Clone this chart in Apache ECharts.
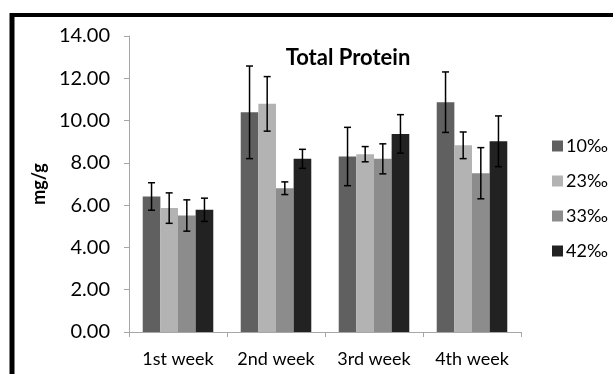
<!DOCTYPE html>
<html>
<head>
<meta charset="utf-8">
<script src="https://cdn.jsdelivr.net/npm/echarts@6/dist/echarts.min.js"></script>
<style>html,body{margin:0;padding:0;background:#fff;}#c{width:613px;height:374px;}</style>
</head>
<body>
<div id="c"></div>
<script>
const categories = ['1st week', '2nd week', '3rd week', '4th week'];
const seriesNames = ['10‰', '23‰', '33‰', '42‰'];
const mean10 = [6.41, 10.39, 8.30, 10.87];
const mean23 = [5.86, 10.79, 8.41, 8.83];
const mean33 = [5.51, 6.80, 8.19, 7.51];
const mean42 = [5.78, 8.19, 9.37, 9.02];
const sd10 = [0.65, 2.19, 1.38, 1.43];
const sd23 = [0.72, 1.29, 0.36, 0.63];
const sd33 = [0.74, 0.30, 0.71, 1.21];
const sd42 = [0.55, 0.45, 0.91, 1.20];
const yTicks = [0, 2, 4, 6, 8, 10, 12, 14];

const means = [mean10, mean23, mean33, mean42];
const sds = [sd10, sd23, sd33, sd42];
const colors = ['#606060', '#b3b3b3', '#8c8c8c', '#222222'];
const FONT = 'Lato, "Open Sans", sans-serif';
const GAP = 0.28;

const chart = echarts.init(document.getElementById('c'), null, {renderer: 'canvas'});

const series = [];
means.forEach((m, i) => {
  series.push({
    name: seriesNames[i], type: 'bar', data: m,
    barGap: '0%', barCategoryGap: (GAP * 100) + '%',
    itemStyle: {color: colors[i]}
  });
});
means.forEach((m, i) => {
  series.push({
    name: 'err' + i, type: 'custom', z: 10,
    data: m.map((v, k) => [k, v, sds[i][k]]),
    renderItem: function (params, api) {
      const k = api.value(0), mv = api.value(1), sd = api.value(2);
      const base = api.coord([k, mv]);
      const catW = api.size([1, 0])[0];
      const bw = catW * (1 - GAP) / 4;
      const cx = base[0] + (i - 1.5) * bw;
      const hi = api.coord([k, mv + sd])[1];
      const lo = api.coord([k, mv - sd])[1];
      const cap = 3.5;
      const st = {stroke: '#000', lineWidth: 1.5};
      return {type: 'group', children: [
        {type: 'line', shape: {x1: cx, y1: hi, x2: cx, y2: lo}, style: st},
        {type: 'line', shape: {x1: cx - cap, y1: hi, x2: cx + cap, y2: hi}, style: st},
        {type: 'line', shape: {x1: cx - cap, y1: lo, x2: cx + cap, y2: lo}, style: st}
      ]};
    }
  });
});

chart.setOption({
  animation: false,
  backgroundColor: '#fff',
  title: {
    text: 'Total Protein', left: 343, top: 42, textAlign: 'center',
    textStyle: {fontFamily: FONT, fontWeight: 'bold', fontSize: 22, color: '#000'}
  },
  legend: {
    data: seriesNames, orient: 'vertical', left: 547, top: 132,
    itemWidth: 11, itemHeight: 11, itemGap: 17, icon: 'rect',
    textStyle: {fontFamily: FONT, fontSize: 18, color: '#000', padding: [0, 0, 0, -2]}
  },
  grid: {left: 129, right: 92, top: 36, bottom: 42},
  xAxis: {
    type: 'category', data: categories,
    axisLine: {lineStyle: {color: '#a6a6a6', width: 1}},
    axisTick: {show: true, length: 5, lineStyle: {color: '#a6a6a6'}},
    axisLabel: {fontFamily: FONT, fontSize: 18, color: '#000', margin: 18, interval: 0, hideOverlap: false}
  },
  yAxis: {
    type: 'value', min: yTicks[0], max: yTicks[yTicks.length - 1], interval: 2,
    name: 'mg/g', nameLocation: 'middle', nameGap: 76, nameRotate: 90,
    nameTextStyle: {fontFamily: FONT, fontWeight: 'bold', fontSize: 18, color: '#000'},
    axisLine: {show: true, lineStyle: {color: '#a6a6a6', width: 1}},
    axisTick: {show: true, length: 5, lineStyle: {color: '#a6a6a6'}},
    splitLine: {show: false},
    axisLabel: {fontFamily: FONT, fontSize: 20, color: '#000', margin: 19,
      formatter: v => v.toFixed(2)}
  },
  graphic: [
    {type: 'line', shape: {x1: 10, y1: 15, x2: 613, y2: 15}, style: {stroke: '#000', lineWidth: 4}},
    {type: 'line', shape: {x1: 12, y1: 13, x2: 12, y2: 374}, style: {stroke: '#000', lineWidth: 5}}
  ],
  series: series
});
</script>
</body>
</html>
